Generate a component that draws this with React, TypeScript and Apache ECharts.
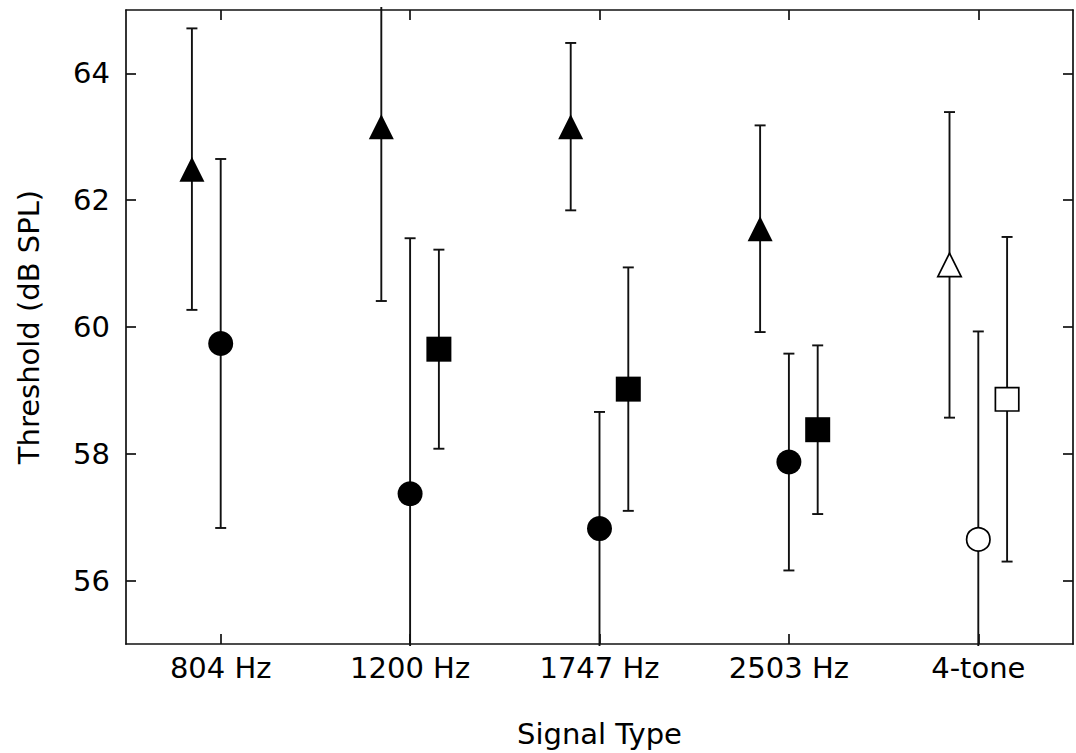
import React, { useEffect, useRef } from "react";
import * as echarts from "echarts";

const categories = ["804 Hz", "1200 Hz", "1747 Hz", "2503 Hz", "4-tone"];
const yTicks = [56, 58, 60, 62, 64];
const Y_MIN = 55;
const Y_MAX = 65;

const triangleMean = [62.49, 63.16, 63.16, 61.55, 60.98];
const triangleErr = [2.22, 2.75, 1.32, 1.63, 2.41];
const circleMean = [59.74, 57.37, 56.82, 57.87, 56.65];
const circleErr = [2.91, 4.03, 1.84, 1.71, 3.28];
const squareMean: (number | null)[] = [null, 59.65, 59.02, 58.38, 58.86];
const squareErr: (number | null)[] = [null, 1.57, 1.92, 1.33, 2.56];
const filled = [true, true, true, true, false];

const FONT = "DejaVu Sans";
const INK = "#111";

function buildData(means: (number | null)[], errs: (number | null)[]) {
  const out: any[] = [];
  means.forEach((m, i) => {
    if (m == null || errs[i] == null) return;
    out.push([i, m, errs[i], filled[i] ? 1 : 0]);
  });
  return out;
}

function makeSeries(name: string, shape: string, offset: number, means: any[], errs: any[]) {
  return {
    type: "custom",
    name,
    xAxisIndex: 0,
    yAxisIndex: 0,
    clip: false,
    data: buildData(means, errs),
    renderItem: (params: any, api: any) => {
      const cat = api.value(0);
      const mean = api.value(1);
      const err = api.value(2);
      const isFilled = api.value(3) === 1;
      const band = api.size([1, 0])[0];
      const c = api.coord([cat, mean]);
      const x = c[0] + offset * band;
      const y = c[1];
      const axTop = api.coord([cat, Y_MAX])[1];
      const axBot = api.coord([cat, Y_MIN])[1];
      const limTop = axTop - 3;
      const limBot = axBot + 2;
      const rawTop = api.coord([cat, mean + err])[1];
      const rawBot = api.coord([cat, mean - err])[1];
      const topClipped = rawTop < axTop;
      const botClipped = rawBot > axBot;
      const yTop = topClipped ? limTop : rawTop;
      const yBot = botClipped ? limBot : rawBot;
      const cap = 5.5;
      const lineStyle = { stroke: INK, lineWidth: 1.9 };
      const markStyle = {
        fill: isFilled ? "#000" : "#fff",
        stroke: "#000",
        lineWidth: isFilled ? 0 : 1.7,
      };
      const r = 12.5;
      let marker: any;
      if (shape === "circle") {
        marker = { type: "circle", shape: { cx: x, cy: y, r: isFilled ? r : r - 0.8 }, style: markStyle };
      } else if (shape === "rect") {
        const h = isFilled ? r : r - 0.8;
        marker = { type: "rect", shape: { x: x - h, y: y - h, width: 2 * h, height: 2 * h }, style: markStyle };
      } else {
        const h = isFilled ? r : r - 0.8;
        marker = {
          type: "polygon",
          shape: { points: [[x, y - h], [x - h, y + h], [x + h, y + h]] },
          style: markStyle,
        };
      }
      const children: any[] = [
        { type: "line", shape: { x1: x, y1: yTop, x2: x, y2: yBot }, style: lineStyle },
      ];
      if (!topClipped) {
        children.push({ type: "line", shape: { x1: x - cap, y1: yTop, x2: x + cap, y2: yTop }, style: lineStyle });
      }
      if (!botClipped) {
        children.push({ type: "line", shape: { x1: x - cap, y1: yBot, x2: x + cap, y2: yBot }, style: lineStyle });
      }
      children.push(marker);
      return { type: "group", children };
    },
  };
}

export default function App() {
  const ref = useRef<HTMLDivElement>(null);
  useEffect(() => {
    if (!ref.current) return;
    const chart = echarts.init(ref.current, null, { renderer: "svg" });
    const axisLine = { show: true, lineStyle: { color: INK, width: 1.7 } };
    const tick = { show: true, inside: true, length: 10, lineStyle: { color: INK, width: 1.7 } };
    chart.setOption({
      animation: false,
      backgroundColor: "#fff",
      grid: { left: 126, right: 3, top: 10, bottom: 109, containLabel: false },
      xAxis: [
        {
          type: "category",
          data: categories,
          position: "bottom",
          boundaryGap: true,
          axisLine,
          axisTick: { ...tick, alignWithLabel: true },
          axisLabel: { show: true, margin: 9, fontFamily: FONT, fontSize: 29, color: "#000" },
          splitLine: { show: false },
          name: "Signal Type",
          nameLocation: "middle",
          nameGap: 75,
          nameTextStyle: { fontFamily: FONT, fontSize: 29, color: "#000" },
        },
        {
          type: "category",
          data: categories,
          position: "top",
          boundaryGap: true,
          axisLine,
          axisTick: { ...tick, alignWithLabel: true },
          axisLabel: { show: false },
          splitLine: { show: false },
        },
      ],
      yAxis: [
        {
          type: "value",
          min: Y_MIN,
          max: Y_MAX,
          position: "left",
          axisLine,
          axisTick: { ...tick, customValues: yTicks },
          axisLabel: { show: true, margin: 16, fontFamily: FONT, fontSize: 29, color: "#000", customValues: yTicks },
          splitLine: { show: false },
          name: "Threshold (dB SPL)",
          nameLocation: "middle",
          nameGap: 83,
          nameTextStyle: { fontFamily: FONT, fontSize: 29, color: "#000" },
        },
        {
          type: "value",
          min: Y_MIN,
          max: Y_MAX,
          position: "right",
          axisLine,
          axisTick: { ...tick, customValues: yTicks },
          axisLabel: { show: false },
          splitLine: { show: false },
        },
      ],
      series: [
        makeSeries("triangle", "triangle", -0.152, triangleMean, triangleErr),
        makeSeries("circle", "circle", 0, circleMean, circleErr),
        makeSeries("square", "rect", 0.152, squareMean, squareErr),
      ],
    });
    return () => chart.dispose();
  }, []);
  return (
    <div
      ref={ref}
      style={{ position: "fixed", left: 0, top: 0, width: 1076, height: 753, background: "#fff" }}
    />
  );
}
